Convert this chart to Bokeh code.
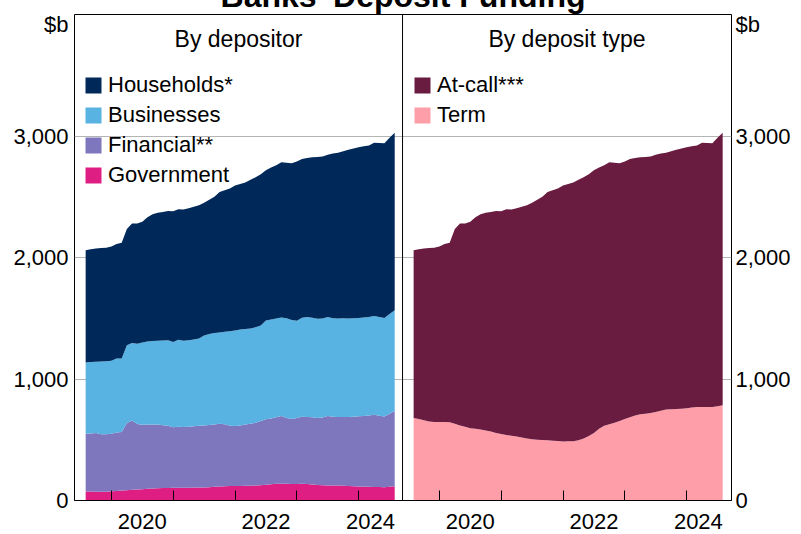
import pandas as pd
from bokeh.plotting import figure
from bokeh.models import (ColumnDataSource, FixedTicker, LinearAxis, Range1d, Span,
                          Legend, LegendItem, Label, NumeralTickFormatter)
from bokeh.embed import file_html
from bokeh.resources import INLINE

# ---------------- data ($b, month-end, Jul 2019 - Jul 2024) ----------------
first_month = "2019-07"
last_month = "2024-07"

government = [74, 74, 73, 72, 73, 76, 78, 82, 85, 88, 91, 93, 96, 98, 100, 102, 103, 104, 104, 104,
              105, 106, 107, 108, 110, 113, 116, 118, 119, 120, 120, 121, 121, 123, 126, 130, 134, 137,
              138, 137, 135, 136, 137, 135, 131, 127, 125, 124, 124, 124, 122, 119, 117, 115, 114, 113,
              112, 111, 110, 114, 118]
financial = [475, 478, 483, 473, 473, 473, 482, 481, 552, 570, 539, 531, 530, 528, 525, 518, 512, 498,
             502, 500, 503, 506, 508, 510, 512, 513, 516, 510, 496, 493, 498, 504, 511, 517, 529, 538,
             541, 548, 557, 543, 535, 542, 553, 553, 554, 553, 558, 571, 566, 564, 566, 569, 573, 579,
             582, 587, 594, 587, 582, 601, 618]
businesses = [586, 588, 587, 600, 600, 601, 608, 605, 640, 639, 660, 676, 682, 687, 690, 697, 703, 703,
              718, 710, 710, 713, 719, 740, 748, 752, 751, 760, 777, 787, 790, 787, 783, 785, 785, 814,
              815, 813, 811, 820, 815, 802, 815, 822, 820, 815, 815, 816, 810, 810, 812, 810, 810, 809,
              811, 810, 813, 812, 811, 820, 830]
households = [925, 928, 932, 933, 934, 940, 944, 953, 958, 983, 990, 995, 1024, 1042, 1053, 1057, 1064,
              1075, 1073, 1081, 1087, 1093, 1096, 1092, 1105, 1122, 1157, 1165, 1176, 1192, 1197, 1205,
              1225, 1235, 1245, 1236, 1250, 1262, 1277, 1280, 1290, 1310, 1305, 1308, 1320, 1333, 1334,
              1335, 1355, 1365, 1375, 1389, 1397, 1405, 1408, 1412, 1426, 1432, 1437, 1450, 1461]

term = [679, 670, 660, 650, 646, 646, 646, 645, 632, 618, 607, 595, 590, 584, 577, 567, 556, 547, 540,
        533, 527, 518, 510, 504, 500, 498, 495, 492, 489, 486, 487, 488, 495, 510, 530, 555, 590, 615,
        628, 640, 655, 670, 685, 700, 710, 715, 720, 728, 738, 750, 752, 753, 755, 760, 765, 769, 770,
        770, 770, 775, 783]
at_call = [1381, 1398, 1415, 1428, 1434, 1444, 1466, 1476, 1603, 1662, 1673, 1700, 1742, 1771, 1791,
           1807, 1826, 1833, 1857, 1862, 1878, 1900, 1920, 1946, 1975, 2002, 2045, 2061, 2079, 2106, 2118,
           2129, 2145, 2150, 2155, 2163, 2150, 2145, 2155, 2140, 2120, 2120, 2125, 2118, 2115, 2113, 2112,
           2118, 2117, 2113, 2123, 2134, 2142, 2148, 2150, 2153, 2175, 2172, 2170, 2210, 2244]

year_ticks = [2020, 2021, 2022, 2023, 2024]
year_labels = ["2020", "2022", "2024"]
label_years = [2020.5, 2022.5, 2024.19]
y_ticks = [0, 1000, 2000, 3000]
unit_label = "$b"

left_series = ["Government", "Financial**", "Businesses", "Households*"]
left_colors = ["#df1e84", "#7f77be", "#58b3e3", "#00295a"]
right_series = ["Term", "At-call***"]
right_colors = ["#fe9ea9", "#6a1b40"]

# ---------------- layout constants ----------------
X0, X1 = 2019.403, 2030.032       # full frame (both panels)
X_DIV = 2024.710                  # panel divider
OFF = 5.306                       # right panel shift
UNIT_Y = 3917                     # where the "$b" unit sits
F = -26                           # figure top (title pulled partly above window)
FONT = "Liberation Sans"

periods = pd.period_range(first_month, last_month, freq="M")
x = [pr.year + pr.month / 12 for pr in periods]

src = ColumnDataSource(dict(
    x=x, xr=[v + OFF for v in x],
    gov=government, fin=financial, bus=businesses, hh=households,
    term=term, atcall=at_call,
))

p = figure(width=785, height=534 - F, margin=(F, 0, 0, 8),
           x_range=Range1d(X0, X1), y_range=Range1d(0, 4000),
           output_backend="svg", toolbar_location=None,
           min_border_left=66, min_border_right=60, min_border_top=0, min_border_bottom=34,
           background_fill_color="white", border_fill_color="white")
p.title.text = "Banks' Deposit Funding"
p.title.align = "center"
p.title.text_font = FONT
p.title.text_font_size = "32px"
p.title.text_font_style = "bold"
p.title.text_color = "black"
p.title.standoff = 2

p.outline_line_color = "black"
p.outline_line_width = 1
p.outline_line_alpha = 1
p.xgrid.visible = False
p.ygrid.ticker = FixedTicker(ticks=[1000, 2000, 3000])
p.ygrid.grid_line_color = "#b4b4b4"
p.ygrid.grid_line_width = 1

left_r = p.varea_stack(stackers=["gov", "fin", "bus", "hh"], x="x", color=left_colors, source=src)
right_r = p.varea_stack(stackers=["term", "atcall"], x="xr", color=right_colors, source=src)

p.add_layout(Span(location=X_DIV, dimension="height", line_color="black", line_width=1))

# x axis: year-boundary ticks (minor, inward) + labels mid-year
maj = [round(v, 3) for v in label_years] + [round(v + OFF, 3) for v in label_years]
mnr = [float(v) for v in year_ticks] + [round(v + OFF, 3) for v in year_ticks]
xa = p.xaxis[0]
xa.ticker = FixedTicker(ticks=maj, minor_ticks=mnr)
xa.major_label_overrides = {t: lab for t, lab in zip(maj, year_labels + year_labels)}
xa.major_tick_in = 0
xa.major_tick_out = 0
xa.minor_tick_in = 10
xa.minor_tick_out = 0
xa.minor_tick_line_color = "black"
xa.axis_line_color = "black"
xa.major_label_standoff = 13
xa.major_label_text_font = FONT
xa.major_label_text_font_size = "22px"
xa.major_label_text_color = "black"

def style_y(ax, standoff):
    ax.ticker = FixedTicker(ticks=y_ticks + [UNIT_Y])
    ax.formatter = NumeralTickFormatter(format="0,0")
    ax.major_label_overrides = {UNIT_Y: unit_label}
    ax.major_tick_in = 0
    ax.major_tick_out = 0
    ax.minor_tick_in = 0
    ax.minor_tick_out = 0
    ax.axis_line_color = None
    ax.major_label_standoff = standoff
    ax.major_label_text_font = FONT
    ax.major_label_text_font_size = "22px"
    ax.major_label_text_color = "black"

style_y(p.yaxis[0], 6)
ry = LinearAxis()
style_y(ry, 4)
p.add_layout(ry, "right")

# legends
def make_legend(names, rends, loc):
    items = [LegendItem(label=n, renderers=[r]) for n, r in zip(names, rends)]
    lg = Legend(items=items, location=loc, orientation="vertical",
                background_fill_alpha=0, border_line_color=None, padding=0, margin=0,
                spacing=4, glyph_width=20, glyph_height=20, label_standoff=5,
                label_text_font=FONT, label_text_font_size="22px", label_text_color="black")
    p.add_layout(lg, "center")

make_legend(left_series[::-1], left_r[::-1], (9, 312))
make_legend(right_series[::-1], right_r[::-1], (338, 372))

# panel headings
for cx, txt in [((X0 + X_DIV) / 2, "By depositor"), ((X_DIV + X1) / 2, "By deposit type")]:
    p.add_layout(Label(x=cx, y=3797, text=txt, text_align="center", text_baseline="alphabetic",
                       text_font=FONT, text_font_size="23px", text_color="black"))

open("out.html", "w").write(file_html(p, INLINE))
